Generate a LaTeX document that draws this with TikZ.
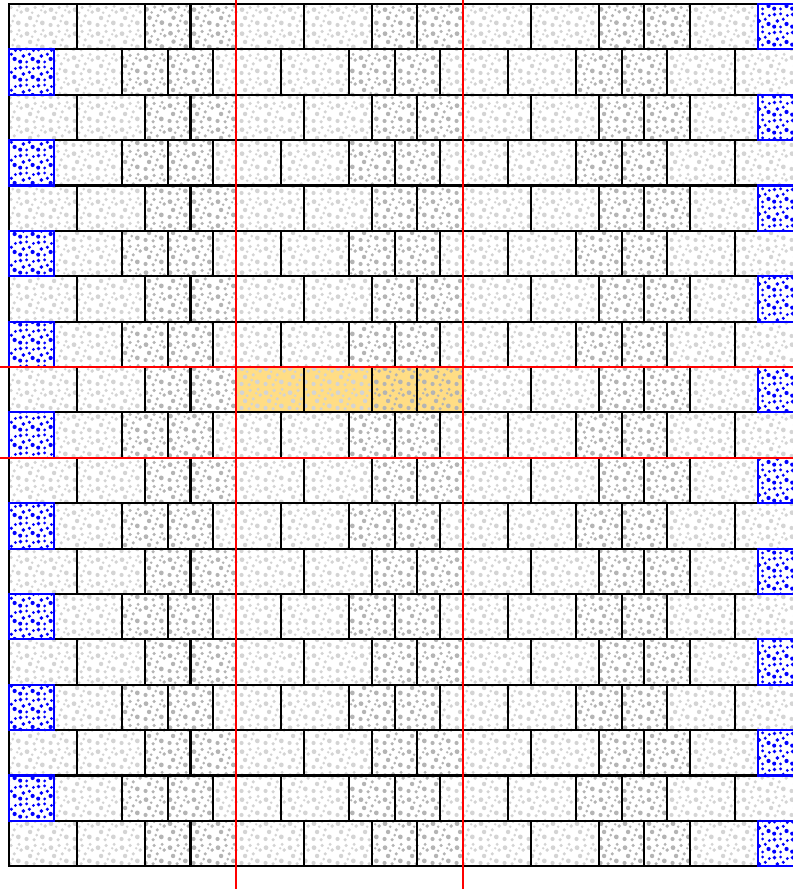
\documentclass[tikz,border=0pt]{standalone}
\usetikzlibrary{patterns}
\pgfdeclarepatternformonly{speck}{\pgfpointorigin}{\pgfpoint{15pt}{15pt}}{\pgfpoint{15pt}{15pt}}{%
  \pgfpathcircle{\pgfpoint{1.6pt}{1.9pt}}{1.3pt}%
  \pgfpathcircle{\pgfpoint{6.3pt}{1.4pt}}{1.1pt}%
  \pgfpathcircle{\pgfpoint{11.5pt}{3.2pt}}{1.5pt}%
  \pgfpathcircle{\pgfpoint{3.8pt}{6.3pt}}{1.4pt}%
  \pgfpathcircle{\pgfpoint{9.0pt}{7.6pt}}{1.1pt}%
  \pgfpathcircle{\pgfpoint{13.3pt}{10.0pt}}{1.2pt}%
  \pgfpathcircle{\pgfpoint{1.9pt}{11.5pt}}{1.5pt}%
  \pgfpathcircle{\pgfpoint{7.0pt}{12.9pt}}{1.1pt}%
  \pgfpathcircle{\pgfpoint{8.0pt}{4.3pt}}{0.9pt}%
  \pgfpathcircle{\pgfpoint{12.0pt}{13.6pt}}{1.0pt}%
  \pgfpathcircle{\pgfpoint{5.1pt}{9.6pt}}{0.9pt}%
  \pgfpathcircle{\pgfpoint{10.8pt}{11.1pt}}{0.8pt}%
  \pgfusepath{fill}}
\pgfdeclarepatternformonly{speckdense}{\pgfpointorigin}{\pgfpoint{11pt}{11pt}}{\pgfpoint{11pt}{11pt}}{%
  \pgfpathcircle{\pgfpoint{1.4pt}{1.5pt}}{1.3pt}%
  \pgfpathcircle{\pgfpoint{5.5pt}{1.3pt}}{1.0pt}%
  \pgfpathcircle{\pgfpoint{9.3pt}{3.2pt}}{1.35pt}%
  \pgfpathcircle{\pgfpoint{3.4pt}{5.1pt}}{1.25pt}%
  \pgfpathcircle{\pgfpoint{7.2pt}{6.2pt}}{1.1pt}%
  \pgfpathcircle{\pgfpoint{9.8pt}{8.6pt}}{1.0pt}%
  \pgfpathcircle{\pgfpoint{1.6pt}{9.2pt}}{1.25pt}%
  \pgfpathcircle{\pgfpoint{5.5pt}{9.6pt}}{1.0pt}%
  \pgfusepath{fill}}
\definecolor{hl}{RGB}{255,221,133}
\definecolor{lightspeck}{RGB}{212,212,212}
\definecolor{darkspeck}{RGB}{180,180,180}
\newcommand\brickwall{%
\foreach \r in {0,...,18} {
  \pgfmathtruncatemacro{\rowpar}{mod(\r,2)}
  \ifnum\rowpar=0
    \foreach \k in {0,1,2} {
      \path[longbrick] ({5*\k},-\r) rectangle ({5*\k+1.5},-\r-1);
      \path[longbrick] ({5*\k+1.5},-\r) rectangle ({5*\k+3},-\r-1);
      \path[shortbrick] ({5*\k+3},-\r) rectangle ({5*\k+4},-\r-1);
      \path[shortbrick] ({5*\k+4},-\r) rectangle ({5*\k+5},-\r-1);
    }
    \path[longbrick] (15,-\r) rectangle (16.5,-\r-1);
    \path[bluebrick] (16.5,-\r) rectangle (17.5,-\r-1);
  \else
    \foreach \k in {0,1,2} {
      \path[longbrick] ({5*\k+1},-\r) rectangle ({5*\k+2.5},-\r-1);
      \path[shortbrick] ({5*\k+2.5},-\r) rectangle ({5*\k+3.5},-\r-1);
      \path[shortbrick] ({5*\k+3.5},-\r) rectangle ({5*\k+4.5},-\r-1);
      \path[longbrick] ({5*\k+4.5},-\r) rectangle ({5*\k+6},-\r-1);
    }
    \path[longbrick] (16,-\r) rectangle (17.5,-\r-1);
    \path[bluebrick] (0,-\r) rectangle (1,-\r-1);
  \fi
}}
\tikzset{
  redline/.style={draw=red, line width=1.2pt}
}
\begin{document}
\begin{tikzpicture}[x=1cm,y=1cm]
\useasboundingbox (-0.198,0.088) rectangle (17.276,-19.502);
\clip (-0.198,0.088) rectangle (17.276,-19.502);
% highlight
\fill[hl] (5,-8) rectangle (10,-9);
% pass 1: textures
\begin{scope}[longbrick/.style={pattern=speck, pattern color=lightspeck},
  shortbrick/.style={pattern=speck, pattern color=darkspeck},
  bluebrick/.style={pattern=speckdense, pattern color=blue}]
\brickwall
\end{scope}
% pass 2: black outlines
\begin{scope}[longbrick/.style={draw=black, line width=1.3pt},
  shortbrick/.style={draw=black, line width=1.3pt},
  bluebrick/.style={}]
\brickwall
\end{scope}
% pass 3: blue outlines
\begin{scope}[longbrick/.style={}, shortbrick/.style={},
  bluebrick/.style={draw=blue, line width=1.3pt}]
\brickwall
\end{scope}
% red guide lines
\path[redline] (5,0.1) -- (5,-19.6);
\path[redline] (10,0.1) -- (10,-19.6);
\path[redline] (-0.3,-8) -- (17.4,-8);
\path[redline] (-0.3,-10) -- (17.4,-10);
\end{tikzpicture}
\end{document}
